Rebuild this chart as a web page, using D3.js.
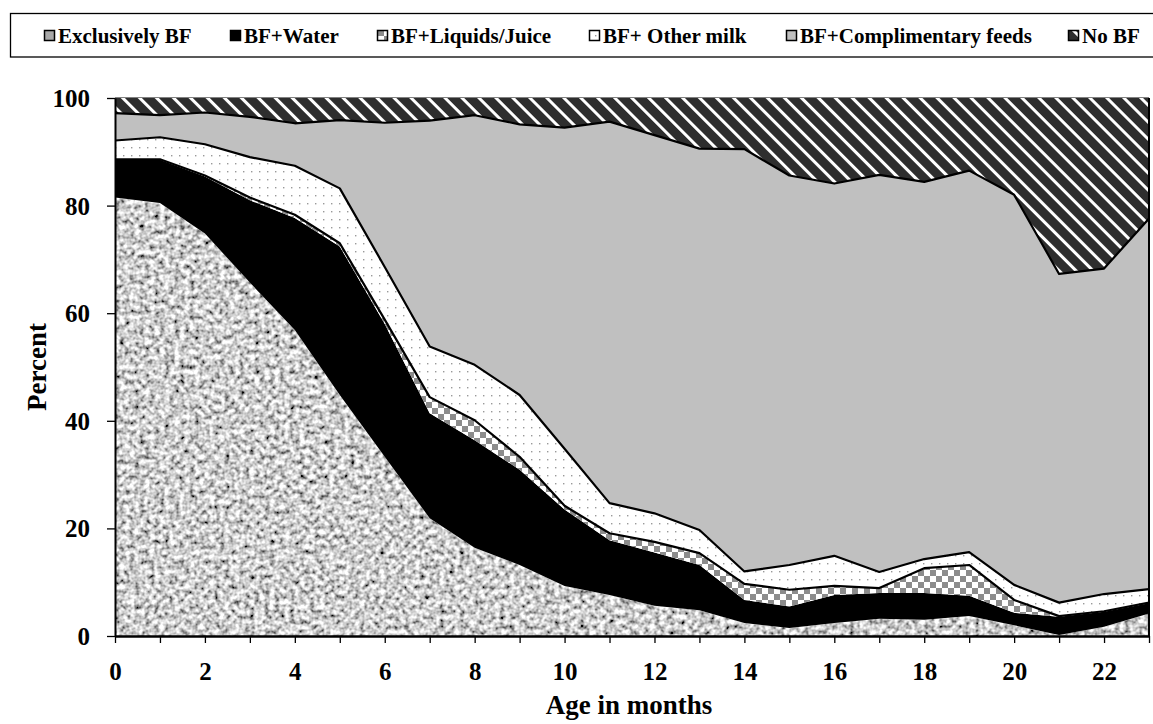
<!DOCTYPE html>
<html>
<head>
<meta charset="utf-8">
<script src="https://cdn.jsdelivr.net/npm/d3@7"></script>
<style>
  body { margin: 0; background: #fff; }
  text { font-family: "Liberation Serif", "Times New Roman", serif; font-weight: bold; fill: #000; }
</style>
</head>
<body>
<script>
// ---------- data ----------
const months = [0,1,2,3,4,5,6,7,8,9,10,11,12,13,14,15,16,17,18,19,20,21,22,23];
const exclusivelyBF   = [81.5,80.5,74.8,65.7,56.9,44.8,33.3,21.9,16.4,13.2,9.3,7.6,5.6,4.8,2.4,1.5,2.4,3.2,3.0,3.7,2.0,0.2,1.7,4.2];
const bfWater         = [7.0,8.0,10.6,15.3,20.8,27.6,24.7,19.5,20.0,17.7,14.2,10.2,9.9,8.4,4.3,4.0,5.2,4.8,5.0,3.8,2.3,3.4,2.8,1.9];
const bfLiquids       = [0.1,0.1,0.2,0.5,0.6,0.6,0.8,3.0,3.7,2.4,0.7,1.3,2.0,2.2,3.0,3.1,1.7,0.9,4.6,5.7,2.4,0.1,0.1,0.1];
const bfOtherMilk     = [3.5,4.1,5.8,7.5,9.1,10.2,9.8,9.4,10.3,11.5,10.6,5.6,5.3,4.3,2.3,4.6,5.6,3.0,1.7,2.4,2.8,2.5,3.2,2.5];
const bfComplementary = [5.1,4.1,5.9,7.5,7.9,12.7,26.8,42.0,46.4,50.3,59.7,70.9,70.3,70.9,78.5,72.4,69.2,73.8,70.1,70.9,72.5,61.1,60.5,68.9];
const noBF            = [2.8,3.2,2.7,3.5,4.7,4.1,4.6,4.2,3.2,4.9,5.5,4.4,6.9,9.4,9.5,14.4,15.9,14.3,15.6,13.5,18.0,32.7,31.7,22.4];
const seriesNames = ["Exclusively BF","BF+Water","BF+Liquids/Juice","BF+ Other milk","BF+Complimentary feeds","No BF"];
const yTicks = [0,20,40,60,80,100];
const xTickLabels = [0,2,4,6,8,10,12,14,16,18,20,22];

// ---------- setup ----------
const W = 1153, H = 724;
const svg = d3.select("body").append("svg").attr("width", W).attr("height", H);
const x = d3.scaleLinear().domain([0, 23]).range([115, 1149]);
const y = d3.scaleLinear().domain([0, 100]).range([636, 98]);

const keys = ["ebf","water","liquids","other","comp","nobf"];
const cols = [exclusivelyBF, bfWater, bfLiquids, bfOtherMilk, bfComplementary, noBF];
const rows = months.map((m, i) => {
  const r = { month: m };
  keys.forEach((k, j) => r[k] = cols[j][i]);
  return r;
});
const stacked = d3.stack().keys(keys)(rows);

// ---------- defs ----------
const defs = svg.append("defs");
const noise = defs.append("filter").attr("id", "noise")
  .attr("x", 0).attr("y", 0).attr("width", "100%").attr("height", "100%");
noise.append("feTurbulence").attr("type", "fractalNoise").attr("baseFrequency", 0.2)
  .attr("numOctaves", 2).attr("seed", 11).attr("result", "t");
noise.append("feColorMatrix").attr("in", "t").attr("type", "matrix")
  .attr("values", "1.9 0 0 0 -0.33  1.9 0 0 0 -0.33  1.9 0 0 0 -0.33  0 0 0 0 1").attr("result", "g");
noise.append("feGaussianBlur").attr("in", "g").attr("stdDeviation", 0.5).attr("result", "b");
noise.append("feComposite").attr("in", "b").attr("in2", "SourceGraphic").attr("operator", "in");

const checker = defs.append("pattern").attr("id", "checker").attr("patternUnits", "userSpaceOnUse")
  .attr("width", 12).attr("height", 12);
checker.append("rect").attr("width", 12).attr("height", 12).attr("fill", "#fff");
checker.append("rect").attr("width", 6).attr("height", 6).attr("fill", "#8c8c8c");
checker.append("rect").attr("x", 6).attr("y", 6).attr("width", 6).attr("height", 6).attr("fill", "#8c8c8c");

const dots = defs.append("pattern").attr("id", "dots").attr("patternUnits", "userSpaceOnUse")
  .attr("width", 8).attr("height", 8);
dots.append("rect").attr("width", 8).attr("height", 8).attr("fill", "#fff");
dots.append("rect").attr("x", 3).attr("y", 3).attr("width", 1.4).attr("height", 1.4).attr("fill", "#999");

const hatch = defs.append("pattern").attr("id", "hatch").attr("patternUnits", "userSpaceOnUse")
  .attr("width", 12).attr("height", 12).attr("patternTransform", "rotate(-45)");
hatch.append("rect").attr("width", 12).attr("height", 12).attr("fill", "#2e2e2e");
hatch.append("rect").attr("x", 4).attr("width", 3).attr("height", 12).attr("fill", "#fff");

defs.append("clipPath").attr("id", "plotclip").append("rect")
  .attr("x", x(0)).attr("y", y(100)).attr("width", x(23) - x(0)).attr("height", y(0) - y(100));

const fills = ["#b0b0b0", "#000", "url(#checker)", "url(#dots)", "#c0c0c0", "url(#hatch)"];

// ---------- areas ----------
const area = d3.area().x(d => x(d.data.month)).y0(d => y(d[0])).y1(d => y(d[1]));
const plot = svg.append("g").attr("clip-path", "url(#plotclip)");
stacked.forEach((s, i) => {
  const p = plot.append("path").datum(s).attr("d", area).attr("fill", fills[i]);
  if (i === 0) p.attr("filter", "url(#noise)");
});
const topLine = d3.line().x(d => x(d.data.month)).y(d => y(d[1]));
[2, 3, 4].forEach(i => {
  plot.append("path").datum(stacked[i]).attr("d", topLine)
    .attr("fill", "none").attr("stroke", "#000").attr("stroke-width", 2.2).attr("stroke-linejoin", "round");
});

// frame
svg.append("line").attr("x1", x(0)).attr("x2", x(23)).attr("y1", y(100) - 0.5).attr("y2", y(100) - 0.5)
  .attr("stroke", "#808080").attr("stroke-width", 1);
svg.append("line").attr("x1", x(23)).attr("x2", x(23)).attr("y1", y(100)).attr("y2", y(0))
  .attr("stroke", "#000").attr("stroke-width", 2);

// ---------- axes ----------
const yAxis = svg.append("g").attr("transform", `translate(${x(0)},0)`)
  .call(d3.axisLeft(y).tickValues(yTicks).tickSize(8).tickPadding(17).tickSizeOuter(0));
yAxis.select(".domain").attr("stroke", "#000").attr("stroke-width", 2);
yAxis.selectAll(".tick line").attr("stroke", "#000").attr("stroke-width", 1.3);
yAxis.selectAll(".tick text").style("font-size", "25px").style("font-family", "Liberation Serif").style("font-weight", "bold").attr("dy", "0.34em");

const xAxis = svg.append("g").attr("transform", `translate(0,${y(0)})`)
  .call(d3.axisBottom(x).tickValues(months).tickSize(7).tickPadding(19).tickSizeOuter(0)
    .tickFormat(d => xTickLabels.includes(d) ? d : ""));
xAxis.select(".domain").attr("stroke", "#000").attr("stroke-width", 2.5);
xAxis.selectAll(".tick line").attr("stroke", "#000").attr("stroke-width", 1.3);
xAxis.selectAll(".tick text").style("font-size", "25px").style("font-family", "Liberation Serif").style("font-weight", "bold");

svg.append("text").attr("x", (x(0) + x(23)) / 2 - 3).attr("y", 714).attr("text-anchor", "middle")
  .style("font-size", "27px").text("Age in months");
svg.append("text").attr("transform", `translate(46,${(y(0) + y(100)) / 2}) rotate(-90)`)
  .attr("text-anchor", "middle").style("font-size", "27px").text("Percent");

// ---------- legend ----------
const lg = svg.append("g");
lg.append("rect").attr("x", 10.5).attr("y", 13.5).attr("width", 1160).attr("height", 43.5)
  .attr("fill", "#fff").attr("stroke", "#000").attr("stroke-width", 1.3);
const legendX = [44, 230, 377, 589, 786, 1068];
seriesNames.forEach((name, i) => {
  const lx = legendX[i];
  const g = lg.append("g");
  const r = g.append("rect").attr("x", lx + 0.5).attr("y", 30.5).attr("width", 10).attr("height", 10)
    .attr("fill", fills[i]).attr("stroke", "#000").attr("stroke-width", 1.5);
  if (i === 0) r.attr("fill", "#a8a8a8");
  g.append("text").attr("x", lx + 14).attr("y", 43).style("font-size", "21px").text(name);
});
</script>
</body>
</html>
